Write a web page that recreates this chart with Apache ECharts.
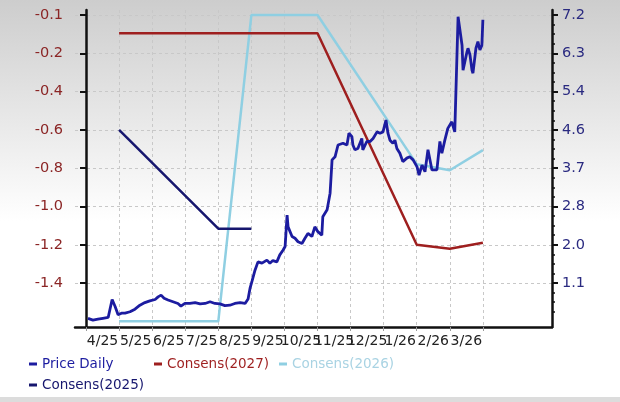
<!DOCTYPE html>
<html>
<head>
<meta charset="utf-8">
<script src="https://cdn.jsdelivr.net/npm/echarts@6/dist/echarts.min.js"></script>
<style>html,body{margin:0;padding:0;}#c{width:620px;height:402px;}</style>
</head>
<body>
<div id="c"></div>
<script>
// ---- data ----
// x unit: months since 1 Apr 2025
const monthLabels = ['4/25','5/25','6/25','7/25','8/25','9/25','10/25','11/25','12/25','1/26','2/26','3/26'];
const monthLines = [0,1,2,3,4,5,6,7,8,9,10,11,12];
const leftTickValues = [-0.05,-0.24,-0.43,-0.62,-0.81,-1.00,-1.19,-1.38];
const leftTickLabels = ['-0.1','-0.2','-0.4','-0.6','-0.8','-1.0','-1.2','-1.4'];
const rightTickValues = [7.2,6.325,5.45,4.575,3.7,2.825,1.95,1.075];
const rightTickLabels = ['7.2','6.3','5.4','4.6','3.7','2.8','2.0','1.1'];

const priceDaily = [[0.06,0.27],[0.21,0.23],[0.36,0.25],[0.51,0.27],[0.67,0.29],[0.79,0.70],[0.88,0.54],[0.97,0.35],[1.09,0.39],[1.18,0.39],[1.33,0.42],[1.48,0.48],[1.63,0.57],[1.78,0.63],[1.93,0.67],[2.09,0.70],[2.18,0.76],[2.27,0.80],[2.36,0.73],[2.48,0.69],[2.63,0.65],[2.78,0.61],[2.87,0.55],[2.99,0.61],[3.14,0.61],[3.30,0.63],[3.45,0.60],[3.60,0.61],[3.75,0.65],[3.90,0.61],[4.05,0.60],[4.20,0.56],[4.35,0.57],[4.50,0.61],[4.66,0.63],[4.81,0.61],[4.90,0.71],[4.96,0.96],[5.02,1.12],[5.11,1.37],[5.20,1.56],[5.32,1.53],[5.47,1.60],[5.56,1.53],[5.65,1.59],[5.77,1.56],[5.86,1.72],[5.96,1.83],[6.02,1.91],[6.08,2.63],[6.11,2.36],[6.23,2.14],[6.32,2.10],[6.41,2.02],[6.53,1.98],[6.62,2.10],[6.71,2.21],[6.83,2.14],[6.92,2.36],[7.01,2.25],[7.13,2.17],[7.16,2.59],[7.29,2.75],[7.38,3.13],[7.44,3.89],[7.53,3.96],[7.62,4.23],[7.77,4.27],[7.89,4.23],[7.95,4.50],[8.04,4.42],[8.07,4.23],[8.13,4.12],[8.22,4.15],[8.34,4.38],[8.37,4.12],[8.49,4.31],[8.59,4.31],[8.68,4.38],[8.80,4.53],[8.89,4.50],[8.98,4.53],[9.07,4.80],[9.13,4.50],[9.19,4.34],[9.28,4.27],[9.34,4.34],[9.40,4.15],[9.49,4.04],[9.58,3.85],[9.70,3.93],[9.79,3.96],[9.89,3.89],[10.01,3.73],[10.07,3.54],[10.16,3.77],[10.25,3.62],[10.34,4.12],[10.46,3.66],[10.61,3.66],[10.70,4.31],[10.76,4.04],[10.85,4.34],[10.94,4.61],[11.06,4.76],[11.09,4.73],[11.15,4.53],[11.25,7.16],[11.37,6.51],[11.40,5.94],[11.52,6.36],[11.55,6.44],[11.61,6.29],[11.67,5.94],[11.70,5.87],[11.79,6.44],[11.85,6.59],[11.91,6.40],[11.97,6.51],[12.00,7.09]];
const consens2027 = [[1,-0.14],[7,-0.14],[10,-1.19],[11,-1.21],[12,-1.18]];
const consens2026 = [[1,-1.57],[4,-1.57],[5,-0.05],[7,-0.05],[10,-0.79],[11,-0.82],[12,-0.72]];
const consens2025 = [[1,-0.62],[4,-1.11],[5,-1.11]];

// ---- chart ----
const FONT = 'DejaVu Sans';
const C_PRICE = '#1c1ca0', C_2025 = '#16166e', C_2027 = '#9e1f1f', C_2026 = '#8fcfe2';
const rightStep = rightTickValues[0] - rightTickValues[1];
const minorTicks = [];
for (let k = 0; k < 40; k++) {
  const v = rightTickValues[0] - k * rightStep / 4;
  if (k % 4 !== 0 && v > 0.07) minorTicks.push(v);
}
const chart = echarts.init(document.getElementById('c'), null, {renderer: 'canvas'});
const labelOf = (vals, labs) => v => { const i = vals.findIndex(t => Math.abs(t - v) < 1e-6); return i >= 0 ? labs[i] : ''; };

chart.setOption({
  animation: false,
  backgroundColor: {type: 'linear', x: 0, y: 0, x2: 0, y2: 1,
    colorStops: [{offset: 0, color: '#cdcdcd'}, {offset: 0.55, color: '#ffffff'}, {offset: 1, color: '#ffffff'}]},
  graphic: [{type: 'rect', left: 0, top: 397, shape: {width: 620, height: 5}, style: {fill: '#dcdcdc'}}],
  grid: {left: 75, right: 68, top: 10, bottom: 75, containLabel: false},
  legend: {
    left: 24, top: 352, width: 400, itemWidth: 8, itemHeight: 3, icon: 'rect',
    itemGap: 7, itemTextGap: 10,
    textStyle: {fontFamily: FONT, fontSize: 13.5, width: 105, lineHeight: 14},
    data: [
      {name: 'Price Daily', textStyle: {color: C_PRICE}},
      {name: 'Consens(2027)', textStyle: {color: C_2027}},
      {name: 'Consens(2026)', textStyle: {color: '#a9d3e3'}},
      {name: 'Consens(2025)', textStyle: {color: C_2025}}
    ]
  },
  xAxis: {
    type: 'value', min: -0.333, max: 14.09,
    axisLine: {lineStyle: {color: '#111', width: 2.5}},
    axisTick: {show: true, length: 4, customValues: monthLines, lineStyle: {color: '#999'}},
    axisLabel: {customValues: monthLines.slice(0, 12).map(m => m + 0.5), formatter: v => monthLabels[Math.floor(v)],
      fontFamily: FONT, fontSize: 14, color: '#222', margin: 7},
    splitLine: {show: true, lineStyle: {type: [3, 3], color: '#c8c8c8', width: 1}}
  },
  yAxis: [
    {type: 'value', position: 'left', min: -1.598, max: -0.025,
      axisLine: {show: true, lineStyle: {color: '#111', width: 2.5}},
      axisTick: {show: true, length: 6, customValues: leftTickValues, lineStyle: {color: '#111', width: 2}},
      axisLabel: {customValues: leftTickValues, formatter: labelOf(leftTickValues, leftTickLabels),
        fontFamily: FONT, fontSize: 14.5, color: '#8b2525', margin: 12},
      splitLine: {show: true, lineStyle: {type: [3, 3], color: '#c8c8c8', width: 1}}},
    {type: 'value', position: 'right', min: 0.072, max: 7.314,
      axisLine: {show: true, lineStyle: {color: '#111', width: 2.5}},
      axisTick: {show: true, length: 6, customValues: rightTickValues, lineStyle: {color: '#111', width: 2}},
      axisLabel: {customValues: rightTickValues, formatter: labelOf(rightTickValues, rightTickLabels),
        fontFamily: FONT, fontSize: 14.5, color: '#2a2a80', margin: 10},
      splitLine: {show: false}},
    {type: 'value', position: 'right', min: 0.072, max: 7.314,
      axisLine: {show: false},
      axisTick: {show: true, length: 3, customValues: minorTicks, lineStyle: {color: '#111', width: 1.5}},
      axisLabel: {show: false}, splitLine: {show: false}}
  ],
  series: [
    {name: 'Consens(2026)', type: 'line', yAxisIndex: 0, data: consens2026, showSymbol: false, symbol: 'none',
      lineStyle: {color: C_2026, width: 2.5}, itemStyle: {color: C_2026}, z: 2},
    {name: 'Consens(2027)', type: 'line', yAxisIndex: 0, data: consens2027, showSymbol: false, symbol: 'none',
      lineStyle: {color: C_2027, width: 2.5}, itemStyle: {color: C_2027}, z: 2},
    {name: 'Consens(2025)', type: 'line', yAxisIndex: 0, data: consens2025, showSymbol: false, symbol: 'none',
      lineStyle: {color: C_2025, width: 2.5}, itemStyle: {color: C_2025}, z: 2},
    {name: 'Price Daily', type: 'line', yAxisIndex: 1, data: priceDaily, showSymbol: false, symbol: 'none',
      lineStyle: {color: C_PRICE, width: 2.8}, itemStyle: {color: C_PRICE}, z: 3}
  ]
});
</script>
</body>
</html>
